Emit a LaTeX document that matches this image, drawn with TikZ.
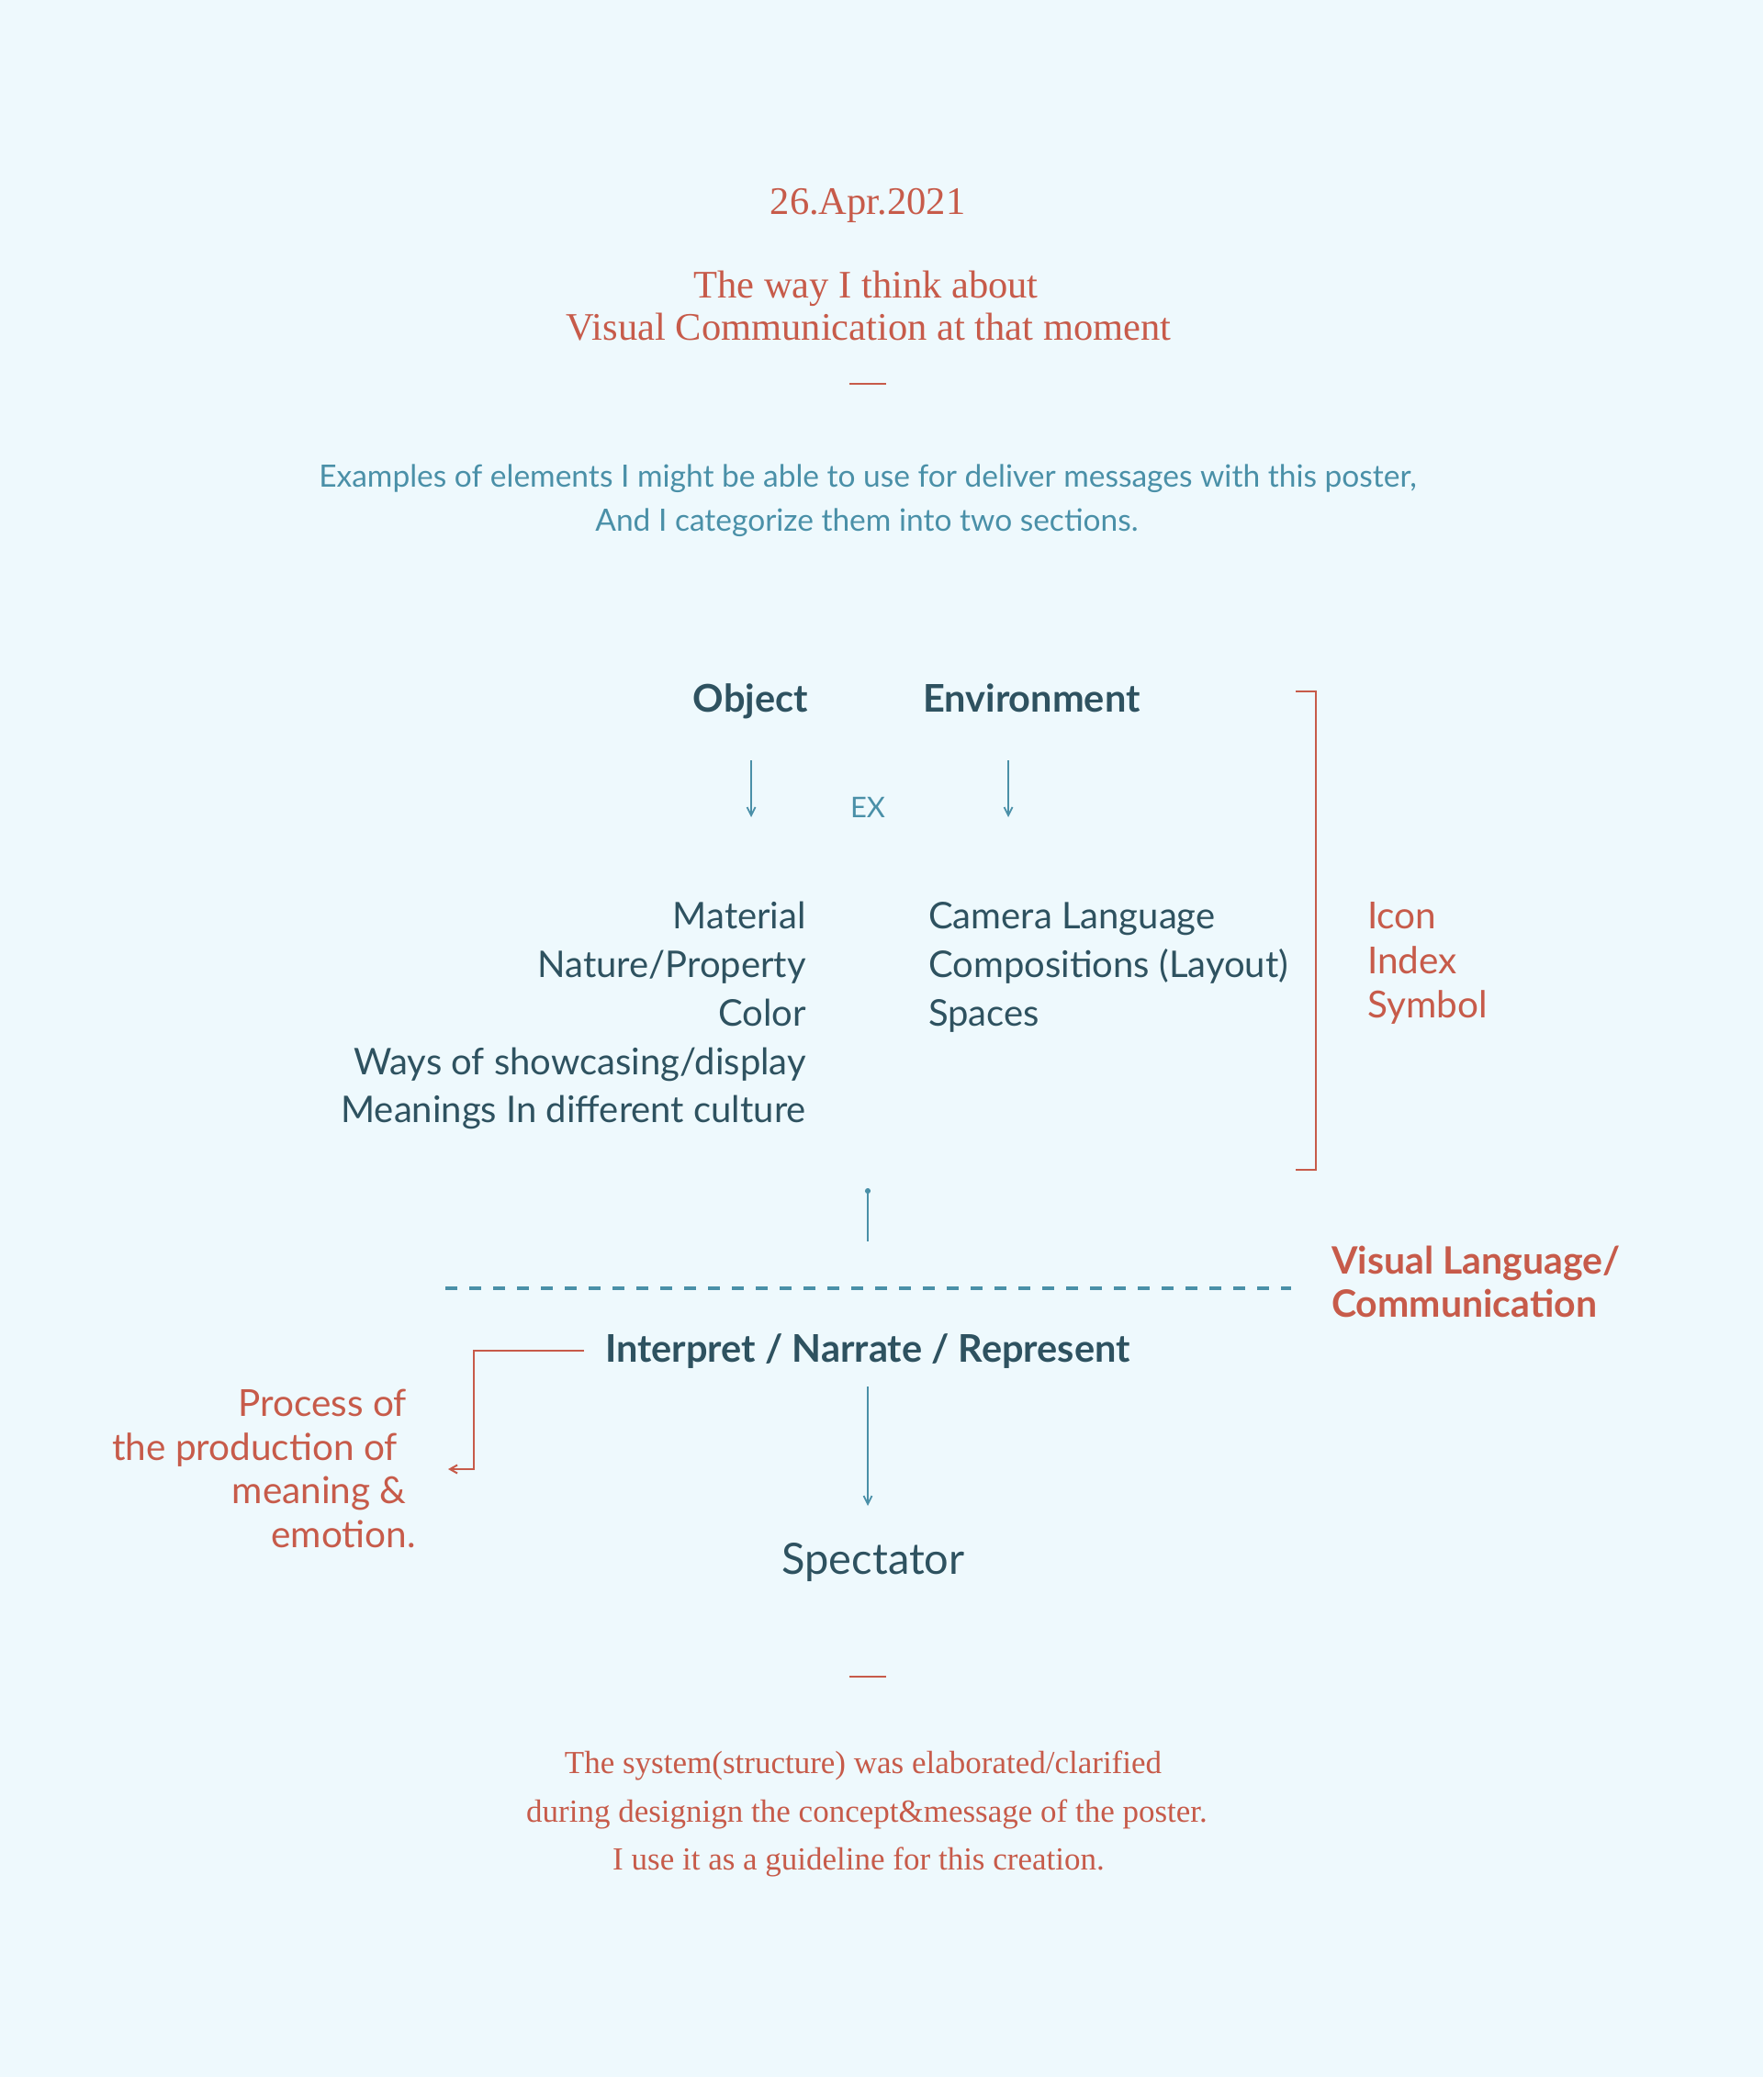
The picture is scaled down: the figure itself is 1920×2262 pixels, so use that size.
\documentclass[tikz,border=0pt]{standalone}
\usepackage{fontspec}
\setmainfont{Liberation Serif}
\newfontfamily\sansf{Lato}
\usetikzlibrary{arrows.meta}
\definecolor{bgc}{HTML}{EEF9FD}
\definecolor{redc}{HTML}{C75B4A}
\definecolor{darkc}{HTML}{2E5260}
\definecolor{tealc}{HTML}{4A90A8}
\tikzset{
  serifred/.style={text=redc, inner sep=0pt, font=\fontsize{42.5}{50}\selectfont},
  botred/.style={text=redc, inner sep=0pt, font=\fontsize{35}{42}\selectfont},
  intro/.style={text=tealc, inner sep=0pt, font=\sansf\fontsize{33.5}{40}\selectfont},
  head/.style={text=darkc, inner sep=0pt, font=\sansf\bfseries\fontsize{41.5}{50}\selectfont},
  item/.style={text=darkc, inner sep=0pt, font=\sansf\fontsize{40}{48}\selectfont},
  reditem/.style={text=redc, inner sep=0pt, font=\sansf\fontsize{40.5}{48}\selectfont},
  redbold/.style={text=redc, inner sep=0pt, font=\sansf\bfseries\fontsize{41}{48}\selectfont},
  arr/.style={draw=tealc, line width=1.8pt, -{Straight Barb[length=9pt,width=9pt,line width=1.8pt]}},
  redarr/.style={draw=redc, line width=2pt, -{Straight Barb[length=8pt,width=9pt,line width=2pt]}},
  rule/.style={draw=redc, line width=2pt},
}
\begin{document}
\begin{tikzpicture}[x=1pt,y=-1pt]
\path[fill=bgc] (0,0) rectangle (1920,2262);
% header
\node[serifred, anchor=mid] (date) at (945,231) {26.Apr.2021};
\node[serifred, anchor=mid] (t1) at (943,322) {The way I think about};
\node[serifred, anchor=mid] (t2) at (946,368) {Visual Communication at that moment};
\coordinate (r1a) at (925,418); \coordinate (r1b) at (965,418);
\draw[rule] (r1a) -- (r1b);
\node[intro, anchor=mid] (i1) at (945,528) {Examples of elements I might be able to use for deliver messages with this poster,};
\node[intro, anchor=mid] (i2) at (944,576) {And I categorize them into two sections.};
% heads
\node[head, anchor=mid east] (obj) at (880,773) {Object};
\node[head, anchor=mid west] (env) at (1005,773) {Environment};
\coordinate (oa) at (818,828); \coordinate (ob) at (818,890);
\coordinate (ea) at (1098,828); \coordinate (eb) at (1098,890);
\draw[arr] (oa) -- (ob);
\draw[arr] (ea) -- (eb);
\node[intro, font=\sansf\fontsize{31}{36}\selectfont, anchor=mid] (ex) at (945,888) {EX};
% lists
\node[item, anchor=mid east] (l1) at (878,1009) {Material};
\node[item, anchor=mid east] (l2) at (878,1062) {Nature/Property};
\node[item, anchor=mid east] (l3) at (878,1115) {Color};
\node[item, anchor=mid east] (l4) at (878,1168) {Ways of showcasing/display};
\node[item, anchor=mid east] (l5) at (878,1220) {Meanings In different culture};
\node[item, anchor=mid west] (m1) at (1011,1009) {Camera Language};
\node[item, anchor=mid west] (m2) at (1011,1062) {Compositions (Layout)};
\node[item, anchor=mid west] (m3) at (1011,1115) {Spaces};
% bracket
\coordinate (bt) at (1411,753); \coordinate (btr) at (1433,753);
\coordinate (bbr) at (1433,1274); \coordinate (bb) at (1411,1274);
\draw[draw=redc, line width=2pt] (bt) -- (btr) -- (bbr) -- (bb);
\node[reditem, anchor=mid west] (k1) at (1489,1009) {Icon};
\node[reditem, anchor=mid west] (k2) at (1489,1058) {Index};
\node[reditem, anchor=mid west] (k3) at (1489,1106) {Symbol};
% dot line
\coordinate (da) at (945,1294); \coordinate (db) at (945,1352);
\draw[draw=tealc, line width=1.8pt, {Circle[length=6pt]}-] (da) -- (db);
% dashed
\coordinate (dl) at (485,1403); \coordinate (dr) at (1406,1403);
\draw[draw=tealc, line width=3.5pt, dash pattern=on 13pt off 13pt] (dl) -- (dr);
\node[redbold, anchor=mid west] (vl1) at (1450,1385) {Visual Language/};
\node[redbold, anchor=mid west] (vl2) at (1450,1432) {Communication};
% interpret
\node[head, anchor=mid] (interp) at (945,1481) {Interpret / Narrate / Represent};
\coordinate (ra) at (636,1471); \coordinate (rc1) at (516,1471); \coordinate (rc2) at (516,1600); \coordinate (rb) at (488,1600);
\draw[redarr] (ra) -- (rc1) -- (rc2) -- (rb);
\node[reditem, anchor=mid east] (p1) at (443,1540) {Process of};
\node[reditem, anchor=mid east] (p2) at (433,1588) {the production of};
\node[reditem, anchor=mid east] (p3) at (443,1635) {meaning \&};
\node[reditem, anchor=mid east] (p4) at (453,1683) {emotion.};
\coordinate (sa) at (945,1510); \coordinate (sb) at (945,1640);
\draw[arr] (sa) -- (sb);
\node[item, font=\sansf\fontsize{47}{56}\selectfont, anchor=mid] (spec) at (951,1712) {Spectator};
\coordinate (r2a) at (925,1826); \coordinate (r2b) at (965,1826);
\draw[rule] (r2a) -- (r2b);
\node[botred, anchor=mid] (b1) at (940,1929) {The system(structure) was elaborated/clarified};
\node[botred, anchor=mid] (b2) at (944,1982) {during designign the concept\&message of the poster.};
\node[botred, anchor=mid] (b3) at (935,2034) {I use it as a guideline for this creation.};
\end{tikzpicture}
\end{document}
